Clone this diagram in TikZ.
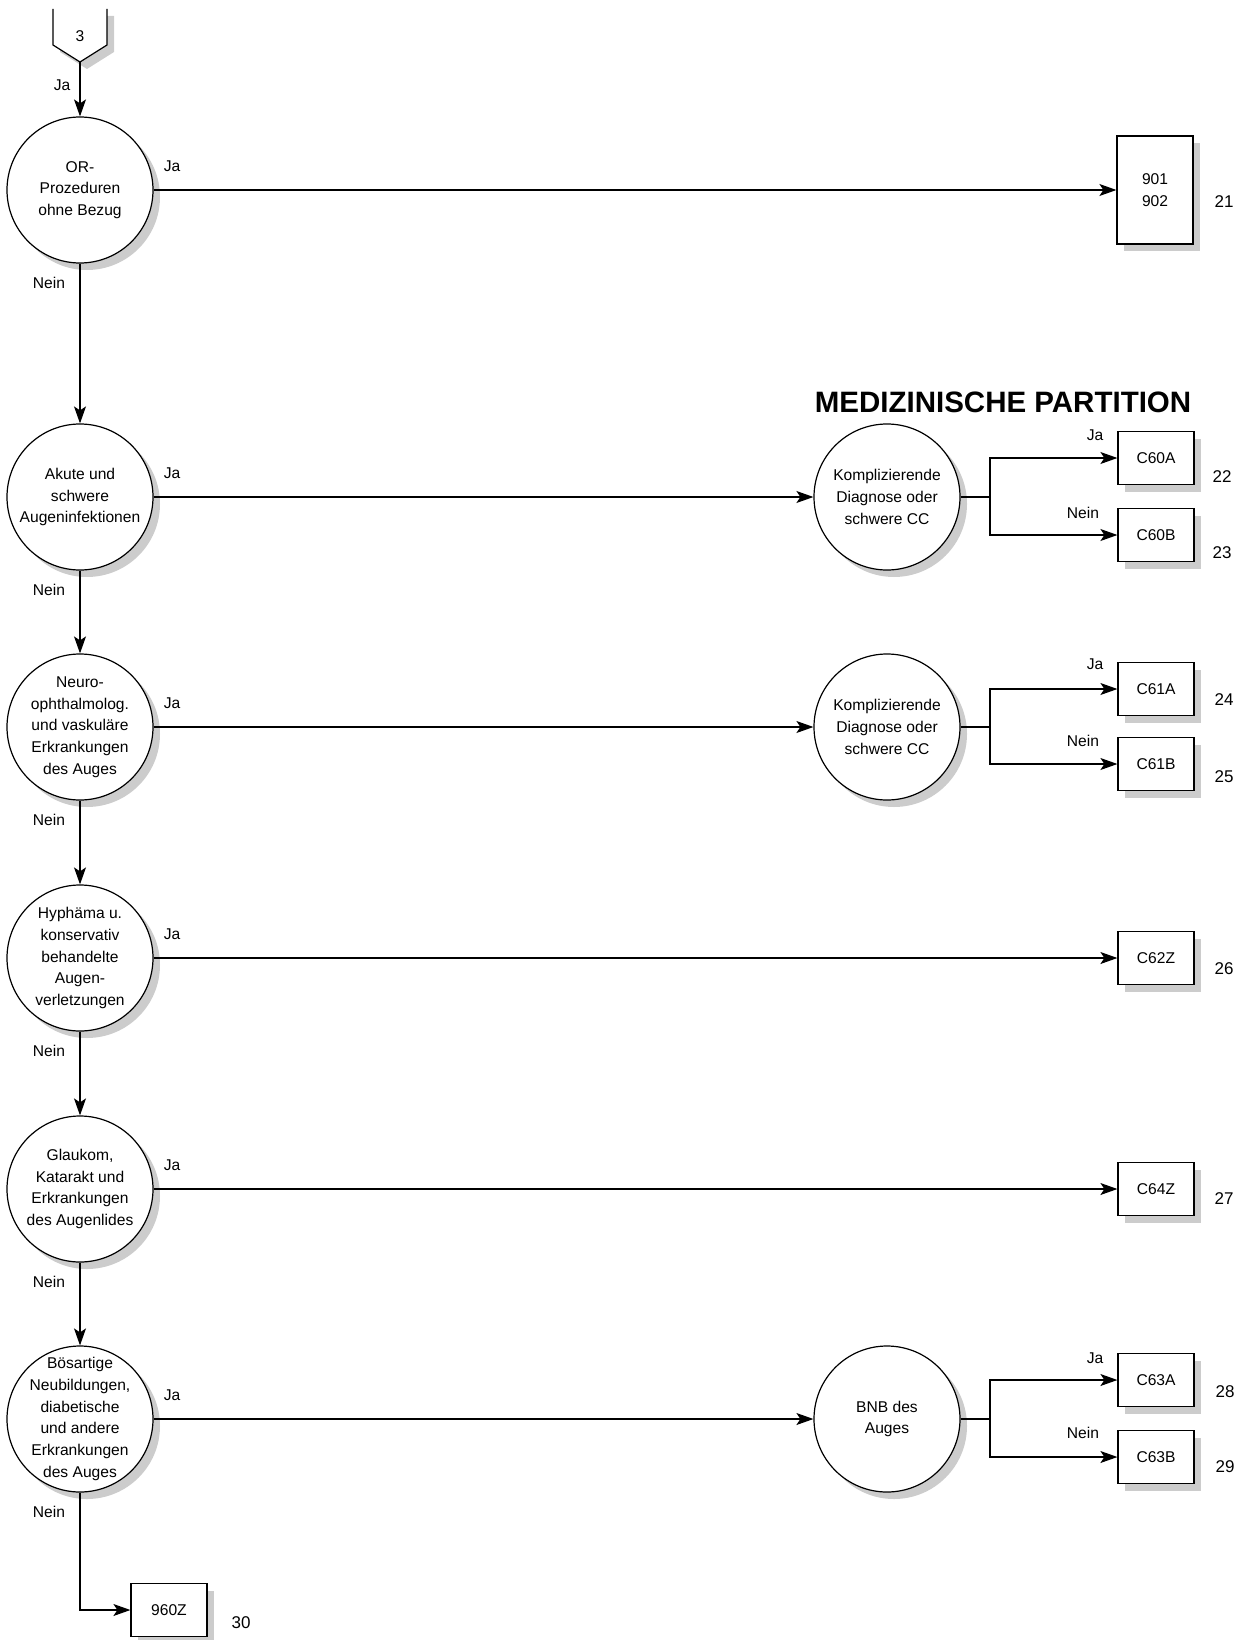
\documentclass[tikz,border=0pt]{standalone}
\usepackage{fontspec}
\setmainfont{Liberation Sans}
\usetikzlibrary{arrows.meta, positioning, shadows}

\begin{document}
\begin{tikzpicture}[x=1pt, y=-1pt,
    font=\fontsize{15.6}{21.7}\selectfont,
    line/.style={line width=1.2pt},
    arr/.style={line, -{Stealth[length=17pt, width=12pt, inset=4pt]}},
    shade/.style={drop shadow={shadow xshift=7pt, shadow yshift=-7pt, fill=gray!40, opacity=1}},
    dec/.style={circle, draw, line, fill=white, minimum size=146pt, inner sep=0pt, shade},
    dectext/.style={align=center, inner sep=0pt},
    drg/.style={rectangle, draw, line, fill=white, minimum width=76pt, minimum height=53pt, inner sep=0pt, shade},
    lbl/.style={inner sep=0pt},
    num/.style={inner sep=0pt, font=\fontsize{17}{20}\selectfont}]
    \useasboundingbox (0,0) rectangle (1239,1640);

    % Off-page connector
    \fill[gray!40] (60,16) -- (60,52) -- (87,69) -- (114,52) -- (114,16) -- cycle;
    \fill[white] (53,9) -- (53,45) -- (80,62) -- (107,45) -- (107,9) -- cycle;
    \draw[line] (53,9) -- (53,45) -- (80,62) -- (107,45) -- (107,9);
    \coordinate (p3) at (80,62);
    \node[lbl] (t3) at (80,36) {3};

    % Main column
    \node[dec] (q1) at (80,190) {};
    \node[dectext] (q1t) at (q1) {OR-\\Prozeduren\\ohne Bezug};
    \node[dec] (q2) at (80,497) {};
    \node[dectext] (q2t) at (q2) {Akute und\\schwere\\Augeninfektionen};
    \node[dec] (q3) at (80,727) {};
    \node[dectext] (q3t) at (q3) {Neuro-\\ophthalmolog.\\und vaskuläre\\Erkrankungen\\des Auges};
    \node[dec] (q4) at (80,958) {};
    \node[dectext] (q4t) at (q4) {Hyphäma u.\\konservativ\\behandelte\\Augen-\\verletzungen};
    \node[dec] (q5) at (80,1189) {};
    \node[dectext] (q5t) at (q5) {Glaukom,\\Katarakt und\\Erkrankungen\\des Augenlides};
    \node[dec] (q6) at (80,1419) {};
    \node[dectext] (q6t) at (q6) {Bösartige\\Neubildungen,\\diabetische\\und andere\\Erkrankungen\\des Auges};

    % Sub decisions
    \node[dec] (k2) at (887,497) {};
    \node[dectext] (k2t) at (k2) {Komplizierende\\Diagnose oder\\schwere CC};
    \node[dec] (k3) at (887,727) {};
    \node[dectext] (k3t) at (k3) {Komplizierende\\Diagnose oder\\schwere CC};
    \node[dec] (k6) at (887,1419) {};
    \node[dectext] (k6t) at (k6) {BNB des\\Auges};

    % DRG boxes
    \node[drg, minimum height=108pt, align=center] (b21) at (1155,190) {901\\902};
    \node[drg] (c60a) at (1156,458) {C60A};
    \node[drg] (c60b) at (1156,535) {C60B};
    \node[drg] (c61a) at (1156,689) {C61A};
    \node[drg] (c61b) at (1156,764) {C61B};
    \node[drg] (c62z) at (1156,958) {C62Z};
    \node[drg] (c64z) at (1156,1189) {C64Z};
    \node[drg] (c63a) at (1156,1380) {C63A};
    \node[drg] (c63b) at (1156,1457) {C63B};
    \node[drg] (z960) at (169,1610) {960Z};

    % Title
    \node[lbl, font=\fontsize{29.5}{34}\selectfont\bfseries] (title) at (1003,402) {MEDIZINISCHE PARTITION};

    % Connectors
    \draw[arr] (p3) -- (q1);
    \draw[arr] (q1) -- (q2);
    \draw[arr] (q2) -- (q3);
    \draw[arr] (q3) -- (q4);
    \draw[arr] (q4) -- (q5);
    \draw[arr] (q5) -- (q6);
    \draw[arr] (q6) |- (z960);

    \draw[arr] (q1) -- (b21);
    \draw[arr] (q2) -- (k2);
    \draw[arr] (q3) -- (k3);
    \draw[arr] (q4) -- (c62z);
    \draw[arr] (q5) -- (c64z);
    \draw[arr] (q6) -- (k6);

    \coordinate (s2) at (990,497);
    \coordinate (s3) at (990,727);
    \coordinate (s6) at (990,1419);
    \draw[line] (k2) -- (s2);
    \draw[arr] (s2) |- (c60a);
    \draw[arr] (s2) |- (c60b);
    \draw[line] (k3) -- (s3);
    \draw[arr] (s3) |- (c61a);
    \draw[arr] (s3) |- (c61b);
    \draw[line] (k6) -- (s6);
    \draw[arr] (s6) |- (c63a);
    \draw[arr] (s6) |- (c63b);

    % Labels
    \node[lbl] (ja0) at (62,85) {Ja};
    \node[lbl] (ja1) at (172,166) {Ja};
    \node[lbl] (ja2) at (172,473) {Ja};
    \node[lbl] (ja3) at (172,703) {Ja};
    \node[lbl] (ja4) at (172,934) {Ja};
    \node[lbl] (ja5) at (172,1165) {Ja};
    \node[lbl] (ja6) at (172,1395) {Ja};
    \node[lbl] (ne1) at (49,283) {Nein};
    \node[lbl] (ne2) at (49,590) {Nein};
    \node[lbl] (ne3) at (49,820) {Nein};
    \node[lbl] (ne4) at (49,1051) {Nein};
    \node[lbl] (ne5) at (49,1282) {Nein};
    \node[lbl] (ne6) at (49,1512) {Nein};
    \node[lbl] (ja22) at (1095,435) {Ja};
    \node[lbl] (ne23) at (1083,513) {Nein};
    \node[lbl] (ja24) at (1095,664) {Ja};
    \node[lbl] (ne25) at (1083,741) {Nein};
    \node[lbl] (ja28) at (1095,1358) {Ja};
    \node[lbl] (ne29) at (1083,1433) {Nein};

    % Numbers
    \node[num] (n21) at (1224,202) {21};
    \node[num] (n22) at (1222,477) {22};
    \node[num] (n23) at (1222,553) {23};
    \node[num] (n24) at (1224,700) {24};
    \node[num] (n25) at (1224,777) {25};
    \node[num] (n26) at (1224,969) {26};
    \node[num] (n27) at (1224,1199) {27};
    \node[num] (n28) at (1225,1392) {28};
    \node[num] (n29) at (1225,1467) {29};
    \node[num] (n30) at (241,1623) {30};
\end{tikzpicture}
\end{document}
